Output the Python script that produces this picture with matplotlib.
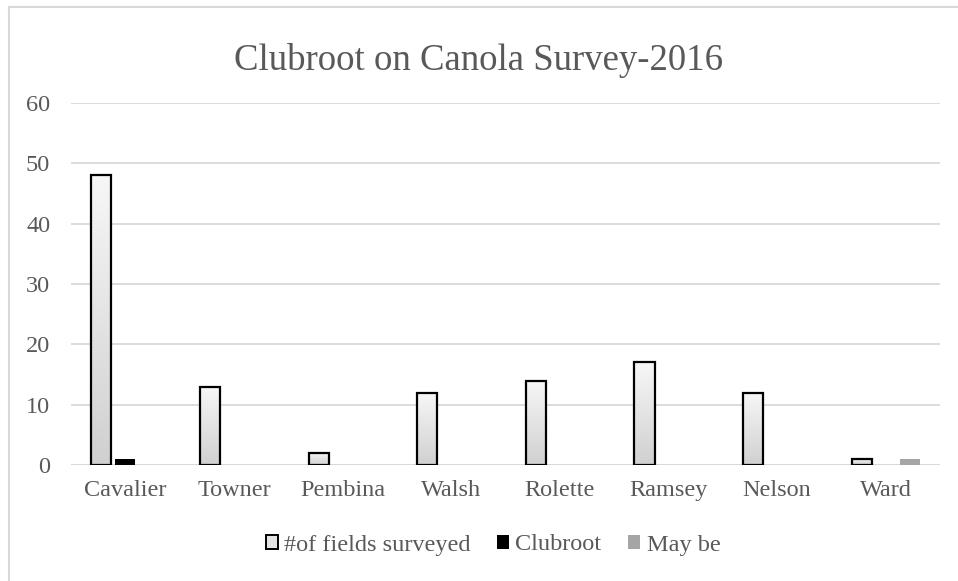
import matplotlib
matplotlib.use("Agg")
import matplotlib.pyplot as plt
import numpy as np
from matplotlib.patches import Rectangle
from matplotlib.lines import Line2D
from matplotlib.colors import LinearSegmentedColormap

counties = ["Cavalier", "Towner", "Pembina", "Walsh", "Rolette", "Ramsey", "Nelson", "Ward"]
fields_surveyed = [48, 13, 2, 12, 14, 17, 12, 1]
clubroot = [1, 0, 0, 0, 0, 0, 0, 0]
may_be = [0, 0, 0, 0, 0, 0, 0, 1]
series_names = ["#of fields surveyed", "Clubroot", "May be"]
yticks = [0, 10, 20, 30, 40, 50, 60]

plt.rcParams['font.family'] = ['Liberation Serif', 'DejaVu Serif']

fig = plt.figure(figsize=(9.58, 5.81), dpi=100)
ax = fig.add_axes([71 / 958, 1 - 465 / 581, 869 / 958, 362 / 581])

x = np.arange(len(counties))
w = 0.185
step = 0.22

grad = np.linspace(0, 1, 256).reshape(-1, 1)
cmap = LinearSegmentedColormap.from_list("g", ["#d0d0d0", "#f7f7f7"])

bars1 = ax.bar(x - step, fields_surveyed, w, facecolor="none", edgecolor="black", linewidth=1.6, zorder=3)
for b in bars1:
    bx, by = b.get_x(), b.get_y()
    bw, bh = b.get_width(), b.get_height()
    im = ax.imshow(grad, cmap=cmap, aspect="auto", origin="lower",
                   extent=[bx, bx + bw, by, by + bh], zorder=2)
    im.set_clip_path(b)
ax.bar(x, clubroot, w, color="black", zorder=3)
ax.bar(x + step, may_be, w, color="#a5a5a5", zorder=3)

ax.set_xlim(-0.5, len(counties) - 0.5)
ax.set_ylim(0, 60)
ax.set_yticks(yticks)
ax.set_xticks(x)
ax.set_xticklabels(counties)
ax.grid(axis="y", color="#d9d9d9", linewidth=1.3, zorder=0)
ax.set_axisbelow(True)
for s in ax.spines.values():
    s.set_visible(False)
ax.axhline(0, color="#d9d9d9", linewidth=1.3, zorder=1)
ax.tick_params(axis="both", length=0, labelsize=17.5, labelcolor="#595959")
ax.tick_params(axis="y", pad=15)
ax.tick_params(axis="x", pad=11)

fig.text(0.5, 1 - 70 / 581, "Clubroot on Canola Survey-2016", ha="center", va="baseline",
         fontsize=26.5, color="#595959")

handles = [
    Rectangle((0, 0), 1, 1, facecolor="#e4e4e4", edgecolor="black", linewidth=1.4),
    Rectangle((0, 0), 1, 1, facecolor="black"),
    Rectangle((0, 0), 1, 1, facecolor="#a5a5a5"),
]
leg = fig.legend(handles, series_names, loc="center", bbox_to_anchor=(493 / 958, 1 - 545 / 581), ncol=3,
                 frameon=False, fontsize=17.5, handlelength=0.5, handleheight=0.5,
                 handletextpad=0.25, columnspacing=1.1, borderpad=0)
for t in leg.get_texts():
    t.set_color("#595959")

fig.add_artist(Line2D([9 / 958, 9 / 958], [0, 1 - 7 / 581], transform=fig.transFigure,
                      color="#d9d9d9", linewidth=1.5))
fig.add_artist(Line2D([9 / 958, 1], [1 - 7 / 581, 1 - 7 / 581], transform=fig.transFigure,
                      color="#d9d9d9", linewidth=1.5))

fig.savefig("out.png", dpi=100)
